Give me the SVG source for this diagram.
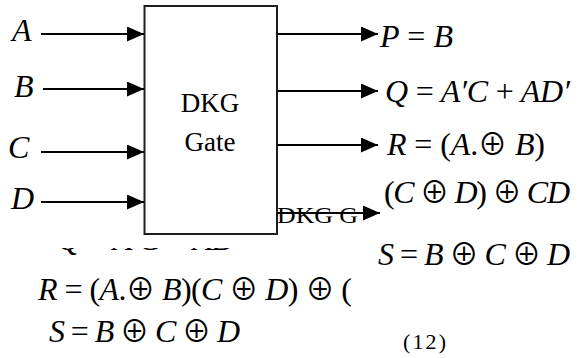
<svg xmlns="http://www.w3.org/2000/svg" width="579" height="358" viewBox="0 0 579 358">
<style>
.box{fill:#fff;stroke:#1e1e1e;stroke-width:2}
.wire{stroke:#000;stroke-width:2.2;fill:none;marker-end:url(#ah)}
.u{font-style:normal}
.o{font-family:"Noto Sans CJK SC","DejaVu Sans",sans-serif;font-style:normal;font-weight:400;font-size:29px}
</style>
<defs>
<marker id="ah" markerUnits="userSpaceOnUse" markerWidth="18" markerHeight="16" refX="17" refY="7.5" orient="auto">
<path d="M0,0 L17,7.5 L0,15 z" fill="#000"/>
</marker>
<clipPath id="qclip"><rect x="0" y="248" width="579" height="20"/></clipPath>
</defs>
<rect width="579" height="358" fill="#fff"/>

<g font-family="Liberation Serif, Times New Roman, serif" fill="#000">
<g id="gate">
<rect class="box" x="144.5" y="6" width="132.5" height="228"/>
<text x="210" y="112" font-size="27" text-anchor="middle">DKG</text>
<text x="210" y="151" font-size="27" text-anchor="middle">Gate</text>
</g>

<g font-size="32" font-style="italic">
<g id="in-A"><text x="12" y="41">A</text></g>
<g id="in-B"><text x="14" y="97">B</text></g>
<g id="in-C"><text x="8" y="158">C</text></g>
<g id="in-D"><text x="11" y="209">D</text></g>

<g id="out-P"><text x="380" y="47" textLength="73" lengthAdjust="spacing">P <tspan class="u">=</tspan> B</text></g>
<g id="out-Q"><text x="385" y="102" textLength="185" lengthAdjust="spacing">Q <tspan class="u">=</tspan> A′C <tspan class="u">+</tspan> AD′</text></g>
<g id="out-R">
<text x="387" y="155" textLength="158" lengthAdjust="spacing">R <tspan class="u">= (</tspan>A<tspan class="u">.</tspan><tspan class="o">⊕</tspan> B<tspan class="u">)</tspan></text>
<text x="384" y="203" textLength="186" lengthAdjust="spacing"><tspan class="u">(</tspan>C <tspan class="o">⊕</tspan> D<tspan class="u">)</tspan> <tspan class="o">⊕</tspan> CD</text>
</g>
<g id="out-S"><text x="378" y="265" textLength="192" lengthAdjust="spacing">S <tspan class="u">=</tspan> B <tspan class="o">⊕</tspan> C <tspan class="o">⊕</tspan> D</text></g>

<text x="57" y="250" textLength="185" lengthAdjust="spacing" clip-path="url(#qclip)">Q <tspan class="u">=</tspan> A′C <tspan class="u">+</tspan> AD′</text>
<text x="38" y="300" textLength="314" lengthAdjust="spacing">R <tspan class="u">= (</tspan>A<tspan class="u">.</tspan><tspan class="o">⊕</tspan> B<tspan class="u">)(</tspan>C <tspan class="o">⊕</tspan> D<tspan class="u">)</tspan> <tspan class="o">⊕</tspan> <tspan class="u">(</tspan></text>
<text x="49" y="342" textLength="191" lengthAdjust="spacing">S <tspan class="u">=</tspan> B <tspan class="o">⊕</tspan> C <tspan class="o">⊕</tspan> D</text>
</g>

<g id="out-extra"><text x="277" y="223" font-size="24" textLength="81" lengthAdjust="spacingAndGlyphs">DKG G</text></g>
<text x="403" y="349" font-size="22" textLength="43" lengthAdjust="spacing">(12)</text>
</g>

<g id="connectors">
<line class="wire" x1="41" y1="34" x2="144" y2="34"/>
<line class="wire" x1="43" y1="89" x2="144" y2="89"/>
<line class="wire" x1="41" y1="152" x2="144" y2="152"/>
<line class="wire" x1="41" y1="202" x2="144" y2="202"/>
<line class="wire" x1="277" y1="34" x2="378" y2="34"/>
<line class="wire" x1="277" y1="91" x2="378" y2="91"/>
<line class="wire" x1="277" y1="145" x2="378" y2="145"/>
<line class="wire" x1="277" y1="213" x2="380" y2="213"/>
</g>
</svg>
